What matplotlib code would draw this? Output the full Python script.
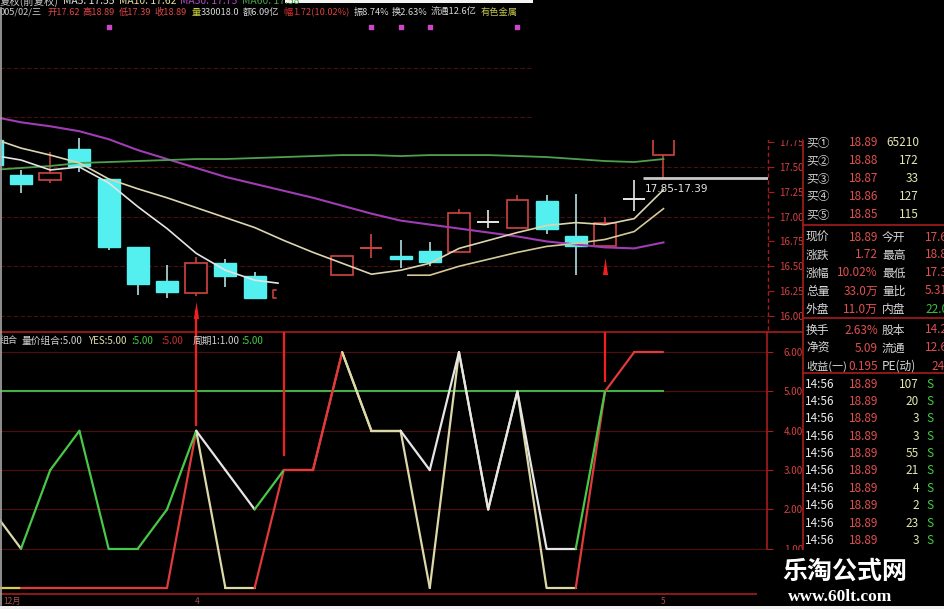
import matplotlib
matplotlib.use("Agg")
import matplotlib.pyplot as plt
from matplotlib.patches import Rectangle

plt.rcParams['font.family'] = ['Noto Sans CJK SC', 'DejaVu Sans']

W, H = 945, 609

# ---- K-line data (bar index -> OHLC) ----
bar_idx = [-1, 0, 1, 2, 3, 4, 5, 6, 7, 8, 11, 12, 13, 14, 15, 16, 17, 18, 19, 20, 21, 22]
opens  = [17.77, 17.42, 17.37, 17.68, 17.38, 16.69, 16.35, 16.23, 16.53, 16.40, 16.41,
          16.68, 16.60, 16.65, 16.64, 16.95, 16.89, 17.16, 16.80, 16.70, 17.18, 17.62]
highs  = [17.80, 17.47, 17.65, 17.79, 17.38, 16.69, 16.51, 16.59, 16.57, 16.44, 16.60,
          16.83, 16.76, 16.74, 17.08, 17.07, 17.22, 17.22, 17.23, 17.00, 17.37, 18.89]
lows   = [17.45, 17.24, 17.34, 17.45, 16.66, 16.21, 16.18, 16.20, 16.29, 16.18, 16.41,
          16.58, 16.48, 16.50, 16.64, 16.89, 16.89, 16.82, 16.41, 16.70, 17.06, 17.39]
closes = [17.52, 17.33, 17.44, 17.51, 16.69, 16.32, 16.24, 16.53, 16.40, 16.18, 16.60,
          16.68, 16.57, 16.54, 17.04, 16.95, 17.17, 16.88, 16.70, 16.94, 17.18, 18.89]
doji_colors = {12: "#d24444", 16: "#e8e8e8", 21: "#e8e8e8"}
stub_bar, stub_lo, stub_hi = 9, 16.18, 16.26   # half-hidden bar

# moving averages
ma_x = list(range(-1, 23))
ma_purple = [18.01, 17.95, 17.91, 17.86, 17.78, 17.67, 17.58, 17.49, 17.40, 17.33, 17.26, 17.19,
             17.11, 17.03, 16.96, 16.92, 16.88, 16.84, 16.80, 16.75, 16.72, 16.69, 16.68, 16.74]
ma_green = [17.47, 17.49, 17.51, 17.54, 17.55, 17.56, 17.57, 17.58, 17.58, 17.59, 17.60, 17.61,
            17.62, 17.62, 17.61, 17.62, 17.62, 17.62, 17.61, 17.60, 17.58, 17.56, 17.55, 17.58]
ma_beige = [17.79, 17.69, 17.62, 17.54, 17.38, 17.28, 17.19, 17.09, 16.99, 16.89, 16.76, 16.64,
            16.53, 16.42, 16.46, 16.53, 16.68, 16.76, 16.84, 16.91, 16.94, 16.92, 16.98, 17.27]
ma5a_x = [-1, 0, 1, 2, 3, 4, 5, 6, 7, 8, 8.8]
ma5a = [17.62, 17.57, 17.47, 17.50, 17.34, 17.10, 16.88, 16.63, 16.46, 16.36, 16.33]
ma5b_x = [13.25, 14, 15, 16, 17, 18, 19, 20, 21, 22]
ma5b = [16.41, 16.41, 16.50, 16.57, 16.64, 16.70, 16.73, 16.77, 16.85, 17.08]

price_ticks = [16.00, 16.25, 16.50, 16.75, 17.00, 17.25, 17.50, 17.75]
grid_levels = [16.0, 16.5, 17.0, 17.5, 18.0, 18.5]
event_bars = [3, 12, 13, 14, 17]
arrow_bars = [6, 20]
arrow_prices = [16.06, 16.50]
gap_label = "17.85-17.39"

# ---- indicator (量价组合) ----
ind1_x = list(range(-1, 21))
ind1 = [2, 1, 3, 4, 1, 1, 2, 4, 3, 2, 3, 3, 6, 4, 4, 3, 6, 2, 5, 1, 1, 5]
ind1_col = (["beige"] + ["green"] * 6 + ["white"] * 2 + ["green"] + ["red"] * 2 + ["beige"] * 2
            + ["white"] * 6 + ["green"])
ind2_x = list(range(-1, 23))
ind2 = [0, 0, 0, 0, 0, 0, 0, 4, 0, 0, 3, 3, 6, 4, 4, 0, 6, 2, 5, 0, 0, 5, 6, 6]
ind2_col = (["yellow"] + ["red"] * 6 + ["beige"] * 2 + ["red"] * 3 + ["beige"] * 8 + ["red"] * 3)
ind_level = 5
stick_bars = [6, 9, 20]
stick_bottoms = [4.13, 3.37, 5.23]
ind_ticks = [1, 2, 3, 4, 5, 6]

# ---- quote panel ----
buy_labels = ["买①", "买②", "买③", "买④", "买⑤"]
buy_prices = ["18.89", "18.88", "18.87", "18.86", "18.85"]
buy_vols = ["65210", "172", "33", "127", "115"]
q_labels1 = ["现价", "涨跌", "涨幅", "总量", "外盘", "换手", "净资", "收益(一)"]
q_values1 = ["18.89", "1.72", "10.02%", "33.0万", "11.0万", "2.63%", "5.09", "0.195"]
q_labels2 = ["今开", "最高", "最低", "量比", "内盘", "股本", "流通", "PE(动)"]
q_values2 = ["17.62", "18.89", "17.39", "5.31", "22.0万", "14.2亿", "12.6亿", "24.2"]
q_val2_green = [False, False, False, False, True, False, False, False]
tick_times = ["14:56"] * 10
tick_prices = ["18.89"] * 10
tick_vols = ["107", "20", "3", "3", "55", "21", "4", "2", "23", "3"]

COL = {"green": "#48c848", "white": "#e6e6e6", "beige": "#dcd8a8",
       "red": "#e03a3a", "yellow": "#d8d040"}
AXRED = "#a81c1c"
GRID = "#4c0e0e"
TXTRED = "#d44040"
GRAY = "#d0d0d0"
HRED = "#e04848"


def px(x):
    return x / W


def py(y):
    return 1 - y / H


def ftext(x, y, s, **kw):
    kw.setdefault("va", "center")
    kw.setdefault("fontsize", 7)
    return fig.text(px(x), py(y), s, **kw)


def frect(x0, y0, x1, y1, color, z):
    fig.patches.append(Rectangle((px(x0), py(y1)), (x1 - x0) / W, (y1 - y0) / H,
                                 transform=fig.transFigure, color=color, zorder=z, lw=0))


def fline(x0, y0, x1, y1, color, lw=1.0, z=4, **kw):
    fig.add_artist(plt.Line2D([px(x0), px(x1)], [py(y0), py(y1)], color=color, lw=lw,
                              zorder=z, transform=fig.transFigure, **kw))


def text_row(y, parts, x0, x1, fs=7):
    # lay out coloured pieces one after another, scaled to span x0..x1
    r = fig.canvas.get_renderer()
    texts = [ftext(x0, y, s, color=c, fontsize=fs) for s, c, _ in parts]
    widths = [t.get_window_extent(r).width for t in texts]
    gaps = sum(g for _, _, g in parts[:-1])
    k = (x1 - x0 - gaps) / sum(widths)
    x = x0
    for t, w, (_, _, g) in zip(texts, widths, parts):
        t.set_fontsize(fs * k)
        t.set_x(px(x))
        x += w * k + g


fig = plt.figure(figsize=(W / 100, H / 100), dpi=100, facecolor="black")

# ---------------- main price panel ----------------
ax = fig.add_axes([0, py(330), 768 / W, 330 / H])
ax.set_facecolor("black")
ax.set_xlim(-0.72, 25.58)
ax.set_ylim(15.858, 19.182)
for s in ax.spines.values():
    s.set_visible(False)
ax.set_xticks([])
ax.yaxis.tick_right()
ax.set_yticks(price_ticks)
ax.set_yticklabels([f"{p:.2f}" for p in price_ticks])
ax.tick_params(axis="y", colors=AXRED, labelcolor=TXTRED, labelsize=7, length=4, pad=4)
ax.axvline(25.58, color=AXRED, lw=1, ls=(0, (3, 2)), clip_on=False)

for g in grid_levels:
    ax.axhline(g, color=GRID, lw=0.8, ls=(0, (4, 2)), zorder=0)

bw = 0.75
for i, o, h, l, c in zip(bar_idx, opens, highs, lows, closes):
    if c > o:
        ax.vlines(i, l, h, color="#d24444", lw=1.1, zorder=3)
        ax.add_patch(Rectangle((i - bw / 2, o), bw, c - o, facecolor="black",
                               edgecolor="#d24444", lw=1.2, zorder=4))
    elif c < o:
        ax.vlines(i, l, h, color="#bff4f4", lw=1.1, zorder=3)
        ax.add_patch(Rectangle((i - bw / 2, c), bw, o - c, facecolor="#54f0f0",
                               edgecolor="#54f0f0", lw=1, zorder=4))
    else:
        col = doji_colors.get(i, "#e8e8e8")
        ax.vlines(i, l, h, color=col, lw=1.2, zorder=4)
        ax.hlines(c, i - bw / 2, i + bw / 2, color=col, lw=1.4, zorder=4)

# half-hidden bar at the seam
sx = stub_bar - bw / 2
ax.plot([sx + 0.12, sx, sx, sx + 0.12], [stub_hi, stub_hi, stub_lo, stub_lo],
        color="#d24444", lw=1.1, zorder=4)

ax.plot(ma_x, ma_purple, color="#a03cb4", lw=1.5, zorder=5)
ax.plot(ma_x, ma_green, color="#4ea04e", lw=1.3, zorder=5)
ax.plot(ma_x, ma_beige, color="#dcd6b0", lw=1.2, zorder=5)
ax.plot(ma5a_x, ma5a, color="#e4e4e4", lw=1.2, zorder=5)
ax.plot(ma5b_x, ma5b, color="#d4ca98", lw=1.2, zorder=5)

# level line from last low + label
lvl = lows[-1]
ax.hlines(lvl, 21.3, 25.58, color="#c8c8c8", lw=2.0, zorder=6)
ax.text(21.37, lvl - 0.11, gap_label, color="#e8e8e8", fontsize=7.5, va="center",
        ha="left", zorder=7, family="DejaVu Sans")

# event markers near top
ax.scatter(event_bars, [18.91] * len(event_bars), marker="s", s=5, color="#c848c8", zorder=6)

# buy arrows
tri = [(-0.3, -1), (0.3, -1), (0, 1)]
ax.scatter(arrow_bars, arrow_prices, marker=tri, s=150, color="#f02020", zorder=7, lw=0)
ax.vlines(arrow_bars[0], 15.82, arrow_prices[0], color="#f02020", lw=1.6, zorder=7,
          clip_on=False)

# ---------------- indicator panel ----------------
ax2 = fig.add_axes([0, py(594), 767 / W, (594 - 332) / H])
ax2.set_facecolor("black")
ax2.set_xlim(-0.72, 25.55)
ax2.set_ylim(-0.153, 6.514)
ax2.spines["left"].set_visible(False)
for k in ("top", "bottom", "right"):
    ax2.spines[k].set_color(AXRED)
    ax2.spines[k].set_linewidth(1.2)
ax2.set_xticks([])
ax2.yaxis.tick_right()
ax2.set_yticks(ind_ticks)
ax2.set_yticklabels([f"{t:.2f}" for t in ind_ticks])
ax2.tick_params(axis="y", colors=AXRED, labelcolor=TXTRED, labelsize=7, length=4, pad=8)
for t in ind_ticks:
    ax2.axhline(t, color=GRID, lw=0.9, zorder=0)
ax2.plot([ind2_x[0], 22], [ind_level, ind_level], color="#42b042", lw=1.5, zorder=2)

for xs, vs, cs, z in ((ind2_x, ind2, ind2_col, 3), (ind1_x, ind1, ind1_col, 4)):
    for j in range(len(vs) - 1):
        ax2.plot(xs[j:j + 2], vs[j:j + 2], color=COL[cs[j]], lw=1.6, zorder=z,
                 solid_capstyle="round")

top = ax2.get_ylim()[1]
for b, lo in zip(stick_bars, stick_bottoms):
    ax2.vlines(b, lo, top + (0.06 if b == arrow_bars[0] else 0), color="#f02020", lw=1.6,
               zorder=6, clip_on=False)

# indicator header
ftext(0, 341, "组合", color=GRAY, fontsize=6.5)
text_row(341, [("量价组合:5.00", GRAY, 5), ("YES:5.00", "#e0dcae", 4),
               (":5.00", "#48c848", 8), (":5.00", "#c83030", 10),
               ("周期1:1.00", GRAY, 1), (":5.00", "#48c848", 0)], 22, 263)

for x, s in [(3, "12月"), (195, "4"), (661, "5")]:
    ftext(x, 601, s, color="#a05050", fontsize=6)

# ---------------- header rows ----------------
text_row(1.5, [("复权(前复权)", "#c8c8c8", 4), ("MA5: 17.55", "#e0e0e0", 4),
               ("MA10: 17.62", "#e0dca0", 4), ("MA30: 17.75", "#b048c0", 4),
               ("MA60: 17.58", "#48a048", 0)], 0, 300)
text_row(12.5, [("005/02/三", "#cfcfcf", 5), ("开17.62", HRED, 3), ("高18.89", HRED, 3),
                ("低17.39", HRED, 3), ("收18.89", HRED, 5), ("量", "#c8d040", 0),
                ("330018.0", "#d8d8d8", 3), ("额6.09亿", "#d8d8d8", 4), ("幅", "#e03030", 0),
                ("1.72(10.02%)", "#d84040", 4), ("振8.74%", "#d8d8d8", 3),
                ("换2.63%", "#d8d8d8", 3), ("流通12.6亿", "#d8d8d8", 4),
                ("有色金属", "#c8c850", 0)], 0, 518)
frect(285, 0, 533, 3, "#f4f4f4", 3)

# cover on upper right (no data shown there)
frect(533, 0, W, 140, "black", 3)

# ---------------- quote panel ----------------
frect(803, 140, W, H, "black", 4)
fline(803, 140, 803, H, AXRED, 1.2, 5)
fline(767, 332, 803, 332, AXRED, 1.2, 5)
for yy in (225, 318, 373):
    fline(803, yy, W, yy, AXRED, 1.2, 5)

LAB = "#d6d6d6"
VAL = "#e05050"
VOL = "#e6e6b0"
for k, (a, b, c) in enumerate(zip(buy_labels, buy_prices, buy_vols)):
    y = 143 + 18 * k
    ftext(806, y, a, color=LAB, fontsize=8.5, zorder=6)
    ftext(878, y, b, color=VAL, fontsize=8.5, ha="right", zorder=6)
    ftext(919, y, c, color=VOL, fontsize=8.5, ha="right", zorder=6)
frect(803, 132, W, 140, "black", 5)

qy = [237, 255, 273, 291, 309, 330, 348, 366]
for k in range(len(q_labels1)):
    y = qy[k]
    ftext(806, y, q_labels1[k], color=LAB, fontsize=8.5 if k < 7 else 8, zorder=6)
    ftext(878, y, q_values1[k], color=VAL, fontsize=8.5, ha="right", zorder=6)
    ftext(882, y, q_labels2[k], color=LAB, fontsize=8.5, zorder=6)
    ftext(925 if k < 7 else 931, y, q_values2[k],
          color="#40c040" if q_val2_green[k] else VAL, fontsize=8.5, zorder=6)

for k, (t, p, v) in enumerate(zip(tick_times, tick_prices, tick_vols)):
    y = 384 + 17.4 * k
    ftext(805, y, t, color="#ececec", fontsize=8.5, zorder=6)
    ftext(878, y, p, color=VAL, fontsize=8.5, ha="right", zorder=6)
    ftext(919, y, v, color=VOL, fontsize=8.5, ha="right", zorder=6)
    ftext(926, y, "S", color="#40d040", fontsize=8.5, zorder=6)

# left border and bottom strip
fline(1, 8, 1, 605, "#a8a8a8", 1.2, 5)
frect(0, 606, W, H, "#f0f0f0", 8)

# watermark
frect(757, 550, W, 606, "black", 8)
ftext(845, 572, "乐淘公式网", color="white", fontsize=18, fontweight="bold", ha="center",
      zorder=9)
ftext(840, 597, "www.60lt.com", color="white", fontsize=12.5, fontweight="bold",
      ha="center", family="Liberation Serif", zorder=9)

fig.savefig("out.png", dpi=100, facecolor="black")
